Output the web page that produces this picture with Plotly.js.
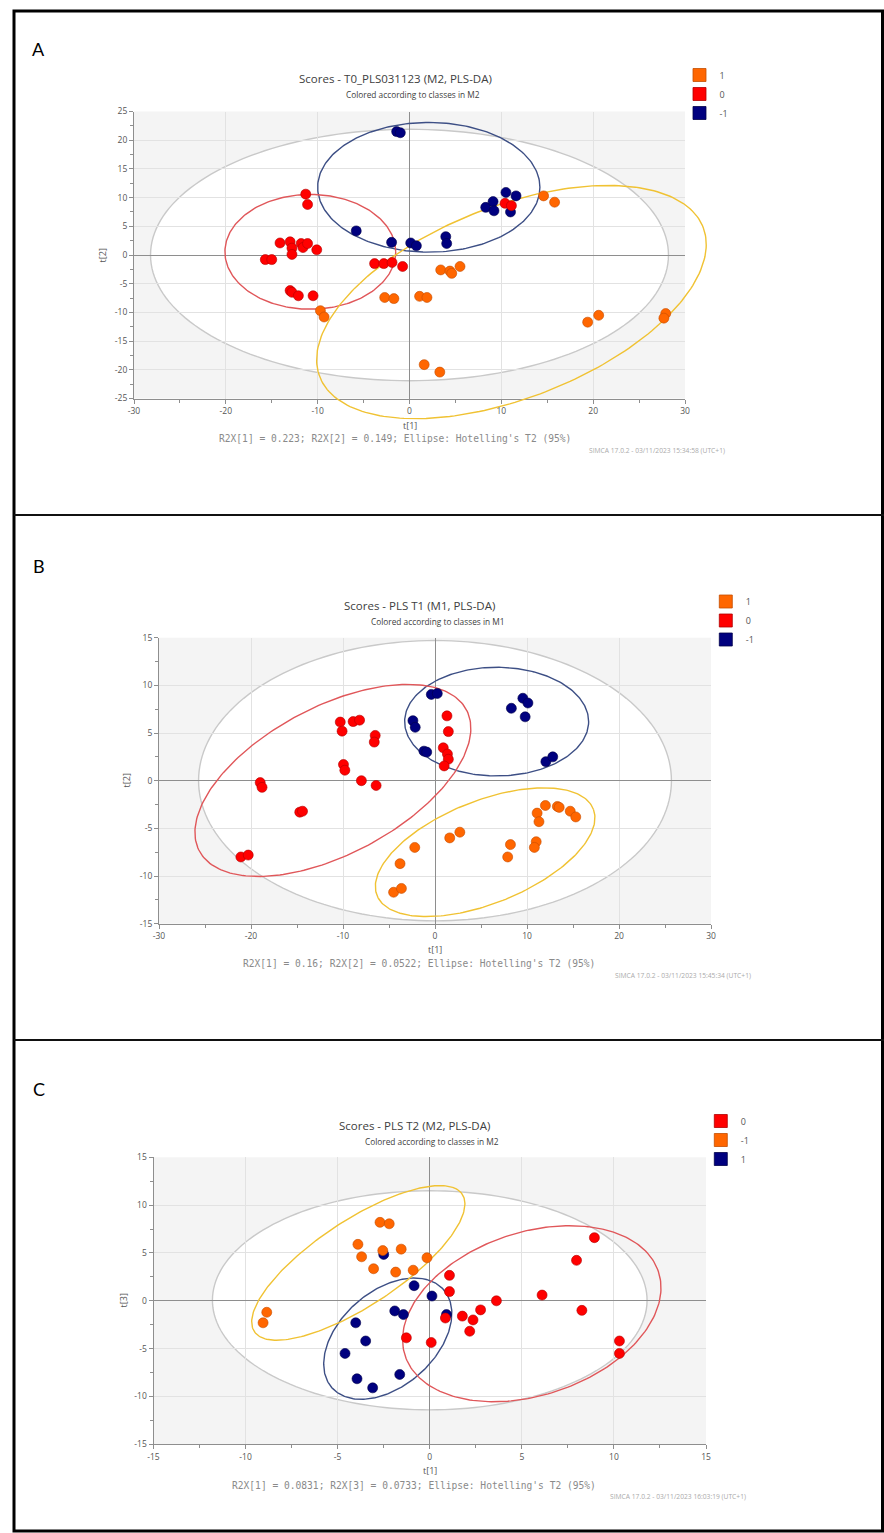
<!DOCTYPE html>
<html><head><meta charset="utf-8">
<script src="https://cdn.plot.ly/plotly-3.0.1.min.js"></script>
<style>html,body{margin:0;padding:0;background:#fff}#chart{width:884px;height:1533px}</style>
</head><body><div id="chart"></div>
<script>
// ---------- Panel A : Scores - T0_PLS031123 (M2, PLS-DA) ----------
const aClass1X  = [14.6, 15.8, 3.4, 4.4, 4.6, 5.5, -2.7, -1.7, 1.1, 1.9, -9.7, -9.3, 1.6, 3.3, 19.4, 20.6, 27.9, 27.7];
const aClass1Y  = [10.3, 9.2, -2.6, -2.8, -3.2, -2.0, -7.4, -7.6, -7.2, -7.4, -9.7, -10.8, -19.1, -20.4, -11.7, -10.5, -10.2, -11.0];
const aClass0X  = [-11.3, -11.1, -14.1, -13.0, -12.8, -12.8, -11.8, -11.6, -11.1, -10.1, -15.7, -15.0, -13.0, -12.8, -12.1, -10.5, -3.8, -2.8, -1.9, -0.75, 10.4, 11.1];
const aClass0Y  = [10.6, 8.8, 2.1, 2.3, 1.2, 0.1, 2.0, 1.3, 2.0, 0.9, -0.8, -0.8, -6.2, -6.5, -7.1, -7.1, -1.5, -1.5, -1.3, -2.0, 9.0, 8.6];
const aClassM1X = [-1.4, -1.0, -5.8, -1.95, 0.13, 0.75, 3.95, 4.05, 8.3, 9.1, 9.2, 10.5, 11.6, 11.0];
const aClassM1Y = [21.5, 21.3, 4.2, 2.2, 2.1, 1.6, 3.2, 2.0, 8.3, 9.3, 7.7, 10.9, 10.3, 7.5];
// ellipses: [centre x, centre y, semi-axis a, semi-axis b, rotation deg]
const aEllAll = [0, 0, 28.2, 21.9, 0];
const aEll1   = [11.1, -8.2, 25.4, 14.75, 42.5];
const aEll0   = [-10.8, 0.55, 9.3, 10.0, 0];
const aEllM1  = [2.1, 11.8, 12.1, 11.3, 0];
const aXTicks = [-30, -20, -10, 0, 10, 20, 30];
const aYTicks = [-25, -20, -15, -10, -5, 0, 5, 10, 15, 20, 25];

// ---------- Panel B : Scores - PLS T1 (M1, PLS-DA) ----------
const bClass1X  = [12.0, 13.3, 13.5, 14.7, 15.3, 11.1, 11.3, 11.0, 10.8, 8.2, 7.9, 1.6, 2.7, -2.2, -3.8, -4.5, -3.65];
const bClass1Y  = [-2.6, -2.7, -2.8, -3.2, -3.8, -3.4, -4.3, -6.4, -7.0, -6.7, -8.0, -6.0, -5.4, -7.0, -8.7, -11.7, -11.3];
const bClass0X  = [-10.3, -10.1, -8.9, -8.2, -6.5, -6.6, -9.95, -9.8, -8.0, -6.4, -19.0, -18.8, -14.7, -14.4, -21.1, -20.3, 1.3, 1.45, 0.9, 1.35, 1.45, 1.0];
const bClass0Y  = [6.15, 5.2, 6.2, 6.35, 4.75, 4.05, 1.7, 1.1, 0.0, -0.5, -0.2, -0.7, -3.3, -3.2, -8.0, -7.8, 6.8, 5.15, 3.45, 2.8, 2.25, 1.55];
const bClassM1X = [-0.4, 0.25, -2.4, -2.15, -1.2, -0.9, 8.3, 9.55, 10.1, 9.8, 12.05, 12.8];
const bClassM1Y = [9.05, 9.15, 6.3, 5.6, 3.1, 3.0, 7.6, 8.65, 8.15, 6.7, 2.0, 2.5];
const bEllAll = [0, 0, 25.7, 14.7, 0];
const bEll1   = [5.45, -7.5, 12.6, 5.41, 20.8];
const bEll0   = [-11.1, 0.03, 16.3, 7.79, 26.5];
const bEllM1  = [6.7, 6.2, 10.0, 5.7, 0];
const bXTicks = [-30, -20, -10, 0, 10, 20, 30];
const bYTicks = [-15, -10, -5, 0, 5, 10, 15];

// ---------- Panel C : Scores - PLS T2 (M2, PLS-DA) ----------
const cClassM1X = [-2.7, -2.2, -3.9, -3.7, -2.55, -1.55, -3.05, -1.85, -0.9, -0.15, -8.85, -9.05];
const cClassM1Y = [8.2, 8.05, 5.9, 4.6, 5.25, 5.4, 3.35, 3.0, 3.2, 4.5, -1.2, -2.3];
const cClass0X  = [1.07, 1.07, 0.85, 1.77, 2.35, 2.17, 2.76, 3.62, 6.1, 7.97, 8.94, 8.26, 10.3, 10.3, -1.27, 0.08];
const cClass0Y  = [2.66, 0.96, -1.8, -1.6, -2.0, -3.18, -0.95, 0.0, 0.6, 4.23, 6.6, -1.0, -4.2, -5.5, -3.87, -4.36];
const cClass1X  = [-2.5, -0.85, 0.12, -1.9, -1.43, 0.91, -4.02, -3.48, -4.6, -3.95, -3.1, -1.63];
const cClass1Y  = [4.85, 1.58, 0.5, -1.06, -1.44, -1.44, -2.3, -4.2, -5.5, -8.15, -9.1, -7.7];
const cEllAll = [0, 0.05, 11.8, 11.45, 0];
const cEllM1  = [-3.88, 3.96, 9.41, 3.21, 57];
const cEll1   = [-2.28, -3.96, 6.55, 3.06, 73.4];
const cEll0   = [5.54, -1.35, 9.64, 6.4, 66.5];
const cXTicks = [-15, -10, -5, 0, 5, 10, 15];
const cYTicks = [-15, -10, -5, 0, 5, 10, 15];

// ---------- styling ----------
const W = 884, H = 1533;
const X = px => px / W;
const Y = py => 1 - py / H;
const FONT = 'Open Sans, Noto Sans, sans-serif';
const MONO = 'DejaVu Sans Mono, Liberation Mono, monospace';
const COL = {
  orange: {fill: '#ff6600', edge: '#c44e00'},
  red:    {fill: '#ff0000', edge: '#b00000'},
  navy:   {fill: '#00007f', edge: '#00004a'}
};
const ELL = {grey: '#c9c9c9', orange: '#f0c233', red: '#e0575a', navy: '#3d4f85'};

function ellipsePts(p, n) {
  const [cx, cy, a, b, deg] = p;
  const t = deg * Math.PI / 180, xs = [], ys = [];
  for (let i = 0; i <= n; i++) {
    const u = 2 * Math.PI * i / n;
    xs.push(cx + a * Math.cos(u) * Math.cos(t) - b * Math.sin(u) * Math.sin(t));
    ys.push(cy + a * Math.cos(u) * Math.sin(t) + b * Math.sin(u) * Math.cos(t));
  }
  return {xs, ys};
}
function ellipsePath(p) {
  const e = ellipsePts(p, 180);
  return 'M' + e.xs.map((x, i) => x.toFixed(3) + ',' + e.ys[i].toFixed(3)).join(' L') + ' Z';
}
function ellTrace(p, color, xa, ya) {
  const e = ellipsePts(p, 240);
  return {x: e.xs, y: e.ys, xaxis: xa, yaxis: ya, mode: 'lines', type: 'scatter',
    line: {color: color, width: 1.4}, hoverinfo: 'skip', showlegend: false};
}
function ptTrace(xs, ys, c, name, xa, ya) {
  return {x: xs, y: ys, xaxis: xa, yaxis: ya, mode: 'markers', type: 'scatter', name: name,
    marker: {size: 10, color: c.fill, line: {color: c.edge, width: 0.6}}, showlegend: false};
}
function legTrace(c, name, leg, xa, ya) {
  return {x: [null], y: [null], xaxis: xa, yaxis: ya, mode: 'markers', type: 'scatter', name: name,
    legend: leg, showlegend: true, hoverinfo: 'skip',
    marker: {symbol: 'square', size: 13, color: c.fill, line: {color: c.edge, width: 0.8}}};
}
function axis(box, isX, range, ticks, minorStep, anchor) {
  const dom = isX ? [X(box.l), X(box.r)] : [Y(box.b), Y(box.t)];
  return {
    domain: dom, range: range, anchor: anchor, fixedrange: true,
    tickmode: 'array', tickvals: ticks, ticktext: ticks.map(v => String(v)),
    showgrid: true, gridcolor: '#e2e2e2', gridwidth: 1,
    zeroline: true, zerolinecolor: '#8e8e8e', zerolinewidth: 1,
    showline: true, linecolor: '#8e8e8e', linewidth: 1,
    ticks: 'outside', ticklen: 4, tickcolor: '#8e8e8e', tickwidth: 1,
    tickfont: {family: FONT, size: 8.5, color: '#555'},
    minor: {tickmode: 'linear', tick0: 0, dtick: minorStep, ticks: 'outside', ticklen: 3,
            tickcolor: '#8e8e8e', showgrid: false}
  };
}

// plot boxes in page pixels
const boxA = {l: 134, r: 685, t: 111.5, b: 398.5};
const boxB = {l: 159, r: 711, t: 637.7, b: 923.7};
const boxC = {l: 153.5, r: 706, t: 1157.3, b: 1444.3};

// panel A traces live on an invisible, wider axis pair with the same scale
// so the class-1 ellipse may run past the frame as in the original
const padA = {l: 25, r: 40, t: 10, b: 45};
const uxA = 60 / (boxA.r - boxA.l), uyA = 50 / (boxA.b - boxA.t);
const aWideX = [-30 - padA.l * uxA, 30 + padA.r * uxA];
const aWideY = [-25 - padA.b * uyA, 25 + padA.t * uyA];

const traces = [
  ellTrace(aEllM1, ELL.navy, 'x4', 'y4'),
  ellTrace(aEll0, ELL.red, 'x4', 'y4'),
  ellTrace(aEll1, ELL.orange, 'x4', 'y4'),
  ptTrace(aClassM1X, aClassM1Y, COL.navy, '-1', 'x4', 'y4'),
  ptTrace(aClass0X, aClass0Y, COL.red, '0', 'x4', 'y4'),
  ptTrace(aClass1X, aClass1Y, COL.orange, '1', 'x4', 'y4'),
  legTrace(COL.orange, '1', 'legend', 'x', 'y'),
  legTrace(COL.red, '0', 'legend', 'x', 'y'),
  legTrace(COL.navy, '-1', 'legend', 'x', 'y'),

  ellTrace(bEllM1, ELL.navy, 'x2', 'y2'),
  ellTrace(bEll0, ELL.red, 'x2', 'y2'),
  ellTrace(bEll1, ELL.orange, 'x2', 'y2'),
  ptTrace(bClassM1X, bClassM1Y, COL.navy, '-1', 'x2', 'y2'),
  ptTrace(bClass0X, bClass0Y, COL.red, '0', 'x2', 'y2'),
  ptTrace(bClass1X, bClass1Y, COL.orange, '1', 'x2', 'y2'),
  legTrace(COL.orange, '1', 'legend2', 'x2', 'y2'),
  legTrace(COL.red, '0', 'legend2', 'x2', 'y2'),
  legTrace(COL.navy, '-1', 'legend2', 'x2', 'y2'),

  ellTrace(cEll1, ELL.navy, 'x3', 'y3'),
  ellTrace(cEllM1, ELL.orange, 'x3', 'y3'),
  ellTrace(cEll0, ELL.red, 'x3', 'y3'),
  ptTrace(cClass1X, cClass1Y, COL.navy, '1', 'x3', 'y3'),
  ptTrace(cClassM1X, cClassM1Y, COL.orange, '-1', 'x3', 'y3'),
  ptTrace(cClass0X, cClass0Y, COL.red, '0', 'x3', 'y3'),
  legTrace(COL.red, '0', 'legend3', 'x3', 'y3'),
  legTrace(COL.orange, '-1', 'legend3', 'x3', 'y3'),
  legTrace(COL.navy, '1', 'legend3', 'x3', 'y3')
];

function bgRect(xa, ya) {
  return {type: 'rect', xref: xa + ' domain', yref: ya + ' domain', x0: 0, x1: 1, y0: 0, y1: 1,
    fillcolor: '#f4f4f4', line: {width: 0}, layer: 'below'};
}
function greyEll(p, xa, ya) {
  return {type: 'path', xref: xa, yref: ya, path: ellipsePath(p), fillcolor: '#ffffff',
    line: {color: ELL.grey, width: 1.4}, layer: 'below'};
}
const shapes = [
  bgRect('x', 'y'), bgRect('x2', 'y2'), bgRect('x3', 'y3'),
  greyEll(aEllAll, 'x', 'y'), greyEll(bEllAll, 'x2', 'y2'), greyEll(cEllAll, 'x3', 'y3'),
  {type: 'rect', xref: 'paper', yref: 'paper', x0: X(14), x1: X(882.5), y0: Y(1531), y1: Y(11),
   line: {color: '#000', width: 3}, fillcolor: 'rgba(0,0,0,0)', layer: 'above'},
  {type: 'line', xref: 'paper', yref: 'paper', x0: X(14), x1: X(884), y0: Y(515), y1: Y(515),
   line: {color: '#111', width: 2}},
  {type: 'line', xref: 'paper', yref: 'paper', x0: X(14), x1: X(884), y0: Y(1040), y1: Y(1040),
   line: {color: '#111', width: 2}}
];

function txt(t, px, py, size, color, family, extra) {
  return Object.assign({text: t, x: X(px), y: Y(py), xref: 'paper', yref: 'paper', showarrow: false,
    xanchor: 'center', yanchor: 'middle', font: {family: family || FONT, size: size, color: color}}, extra || {});
}
const annotations = [
  txt('A', 38.5, 49, 18, '#000', 'Lato, Carlito, sans-serif'),
  txt('B', 38.5, 566, 18, '#000', 'Lato, Carlito, sans-serif'),
  txt('C', 38.5, 1089, 18, '#000', 'Lato, Carlito, sans-serif'),

  txt('Scores - T0_PLS031123 (M2, PLS-DA)', 395, 78, 11.5, '#404040'),
  txt('Colored according to classes in M2', 413, 94.5, 8.3, '#404040'),
  txt('t[1]', 409.7, 425, 9, '#555'),
  txt('t[2]', 103.4, 255, 9, '#555', null, {textangle: -90}),
  txt('R2X[1] = 0.223; R2X[2] = 0.149; Ellipse: Hotelling\'s T2 (95%)', 395, 438.3, 9.6, '#8a8a8a', MONO),
  txt('SIMCA 17.0.2 - 03/11/2023 15:34:58 (UTC+1)', 727, 450.5, 6.7, '#aaaaaa', null, {xanchor: 'right'}),

  txt('Scores - PLS T1 (M1, PLS-DA)', 419.5, 605, 11.5, '#404040'),
  txt('Colored according to classes in M1', 437.7, 621.5, 8.3, '#404040'),
  txt('t[1]', 435, 949, 9, '#555'),
  txt('t[2]', 126.7, 780.7, 9, '#555', null, {textangle: -90}),
  txt('R2X[1] = 0.16; R2X[2] = 0.0522; Ellipse: Hotelling\'s T2 (95%)', 418.5, 963.3, 9.6, '#8a8a8a', MONO),
  txt('SIMCA 17.0.2 - 03/11/2023 15:45:34 (UTC+1)', 753, 975, 6.7, '#aaaaaa', null, {xanchor: 'right'}),

  txt('Scores - PLS T2 (M2, PLS-DA)', 414, 1125, 11.5, '#404040'),
  txt('Colored according to classes in M2', 432, 1141.7, 8.3, '#404040'),
  txt('t[1]', 429.8, 1470, 9, '#555'),
  txt('t[3]', 123.6, 1300.8, 9, '#555', null, {textangle: -90}),
  txt('R2X[1] = 0.0831; R2X[3] = 0.0733; Ellipse: Hotelling\'s T2 (95%)', 413.5, 1485, 9.6, '#8a8a8a', MONO),
  txt('SIMCA 17.0.2 - 03/11/2023 16:03:19 (UTC+1)', 748, 1496, 6.7, '#aaaaaa', null, {xanchor: 'right'})
];

function legendAt(sqLeft, firstCentre) {
  return {x: X(sqLeft + 6.5 - 20), y: Y(firstCentre - 16), xanchor: 'left', yanchor: 'top',
    bgcolor: 'rgba(0,0,0,0)', borderwidth: 0, itemwidth: 30, tracegroupgap: 0,
    font: {family: FONT, size: 9, color: '#555'}, itemclick: false, itemdoubleclick: false};
}

const layout = {
  width: W, height: H, margin: {l: 0, r: 0, t: 0, b: 0},
  paper_bgcolor: '#ffffff', plot_bgcolor: 'rgba(0,0,0,0)',
  showlegend: true, hovermode: 'closest',
  xaxis:  axis(boxA, true,  [-30, 30], aXTicks, 5, 'y'),
  yaxis:  axis(boxA, false, [-25, 25], aYTicks, 2.5, 'x'),
  xaxis2: axis(boxB, true,  [-30, 30], bXTicks, 5, 'y2'),
  yaxis2: axis(boxB, false, [-15, 15], bYTicks, 2.5, 'x2'),
  xaxis3: axis(boxC, true,  [-15, 15], cXTicks, 2.5, 'y3'),
  yaxis3: axis(boxC, false, [-15, 15], cYTicks, 2.5, 'x3'),
  xaxis4: {domain: [X(boxA.l - padA.l), X(boxA.r + padA.r)], range: aWideX, visible: false,
           anchor: 'y4', fixedrange: true, showgrid: false, zeroline: false},
  yaxis4: {domain: [Y(boxA.b + padA.b), Y(boxA.t - padA.t)], range: aWideY, visible: false,
           anchor: 'x4', fixedrange: true, showgrid: false, zeroline: false},
  legend:  legendAt(693, 76.5),
  legend2: legendAt(719.3, 603),
  legend3: legendAt(714.3, 1122.5),
  shapes: shapes,
  annotations: annotations
};

Plotly.newPlot('chart', traces, layout, {displayModeBar: false, staticPlot: false, responsive: false});
</script>
</body></html>
